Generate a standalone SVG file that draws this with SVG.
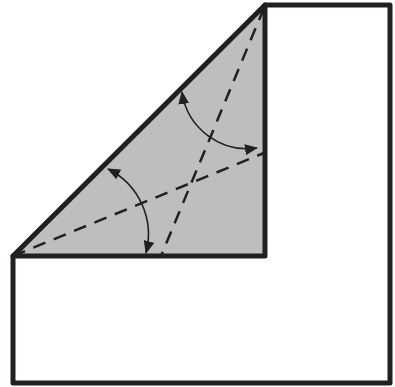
<svg xmlns="http://www.w3.org/2000/svg" width="395" height="387" viewBox="0 0 395 387">
<style>
.outline{fill:none;stroke:#231f20;stroke-width:5;stroke-linejoin:round;stroke-linecap:round}
.dash{fill:none;stroke:#231f20;stroke-width:2.5;stroke-dasharray:13 9}
.arc{fill:none;stroke:#231f20;stroke-width:1.6}
</style>
<defs>
<marker id="ah" viewBox="0 0 13 11" refX="12" refY="5.5" markerWidth="13" markerHeight="11" markerUnits="userSpaceOnUse" orient="auto-start-reverse">
<path d="M0,0 L13,5.5 L0,11 Z" fill="#231f20"/>
</marker>
</defs>
<rect width="395" height="387" fill="#ffffff"/>
<g id="paper">
<path d="M13,256 L265,5 L390,5 L390,383 L13,383 Z" fill="#ffffff"/>
</g>
<g id="flap">
<path d="M13,256 L265,5 L265,256 Z" fill="#bcbec0"/>
</g>
<g id="creases">
<line class="dash" x1="13" y1="256" x2="264" y2="153"/>
<line class="dash" x1="264" y1="8" x2="161" y2="256"/>
</g>
<g id="arrows">
<path class="arc" d="M182,92 A66,66 0 0 0 257,148" marker-start="url(#ah)" marker-end="url(#ah)"/>
<path class="arc" d="M108,169 A73,73 0 0 1 146,253" marker-start="url(#ah)" marker-end="url(#ah)"/>
</g>
<g id="edges">
<path class="outline" d="M13,256 L265,5 L390,5 L390,383 L13,383 Z"/>
<path class="outline" d="M265,5 L265,256 L13,256"/>
</g>
</svg>
